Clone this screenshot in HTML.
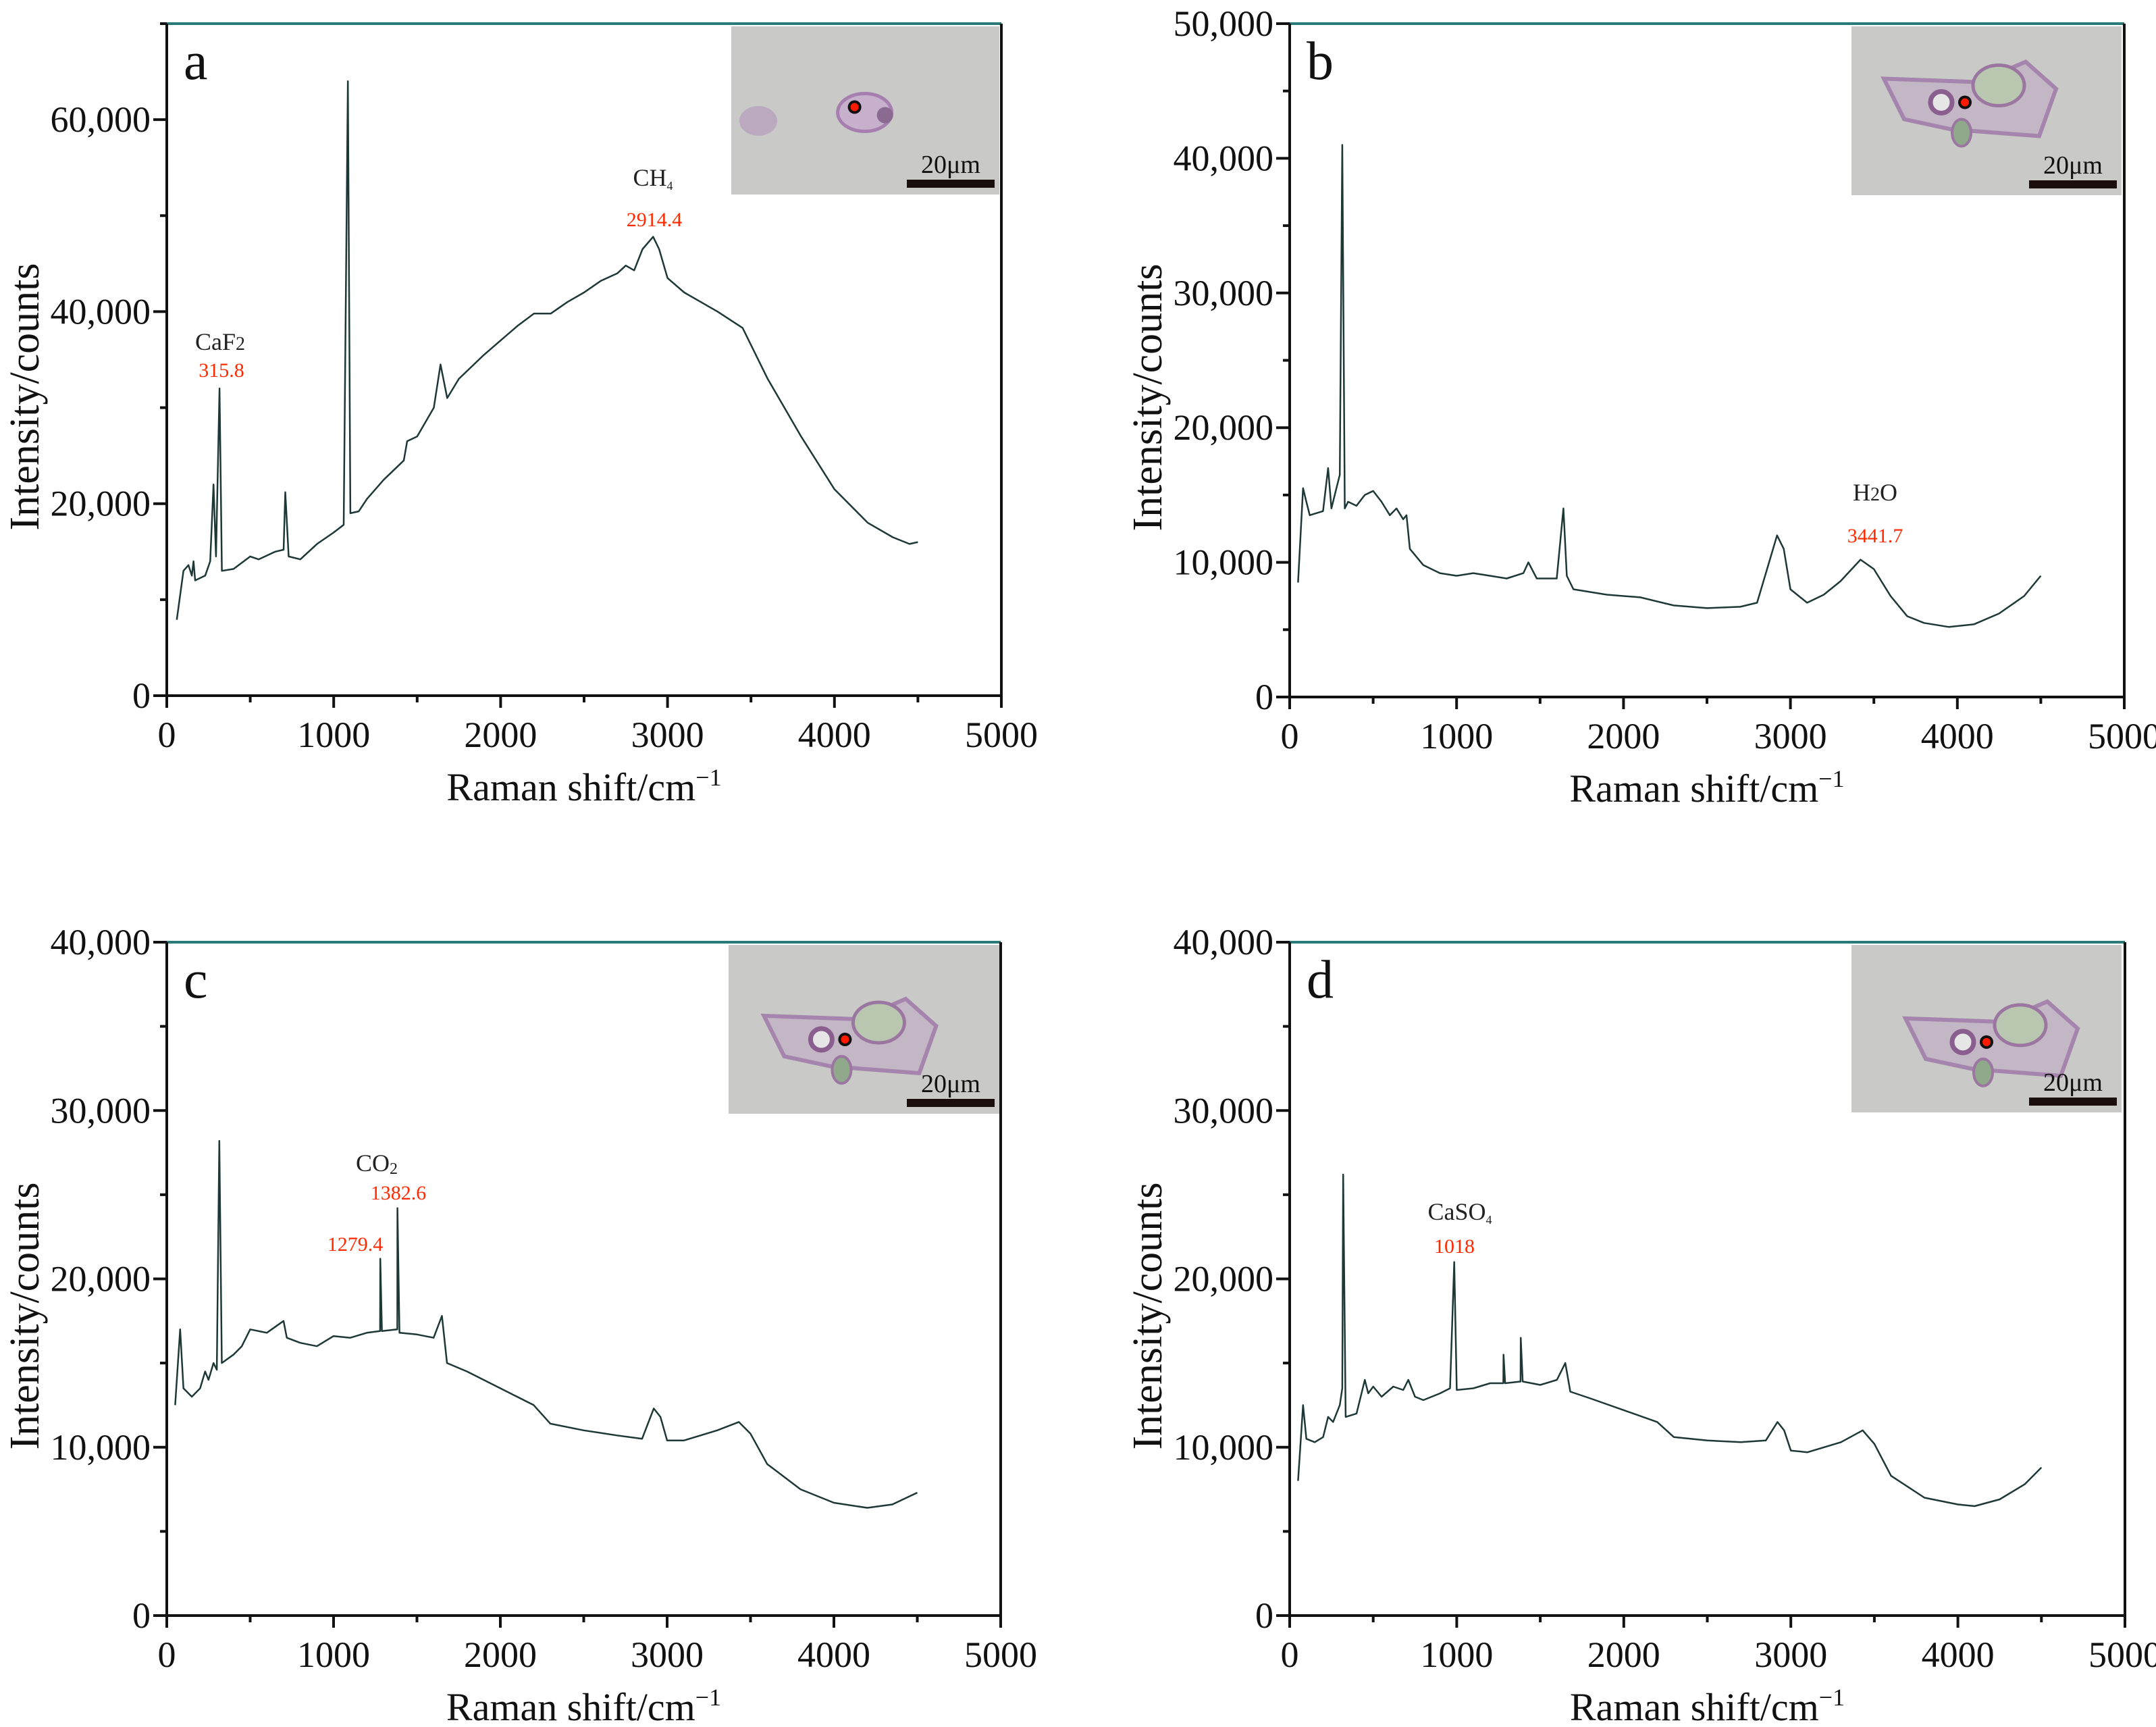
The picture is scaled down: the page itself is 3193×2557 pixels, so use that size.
<!DOCTYPE html>
<html><head><meta charset="utf-8"><style>
html,body{margin:0;padding:0;background:#fff;}
svg{display:block;font-family:"Liberation Serif","DejaVu Serif",serif;}
svg text{font-family:"Liberation Serif","DejaVu Serif",serif;}
</style></head><body>
<svg id="fig" width="3193" height="2557" viewBox="0 0 3193 2557" xmlns="http://www.w3.org/2000/svg" font-family="Liberation Serif, serif"></svg>
<script>
// ---- data ----
const xA=[60,100,130,150,160,170,230,260,280,295,315.8,330,400,500,550,650,700,710,730,800,900,1000,1060,1085,1100,1150,1200,1300,1420,1440,1500,1600,1640,1680,1750,1900,2000,2100,2200,2300,2400,2500,2600,2700,2750,2800,2850,2914,2950,3000,3100,3300,3450,3600,3800,4000,4200,4350,4450,4500];
const yA=[7900,13000,13600,12500,14000,12000,12500,14000,22000,14500,32000,13000,13200,14500,14200,15000,15200,21200,14500,14200,15800,17000,17800,64000,19000,19200,20500,22500,24500,26500,27000,30000,34500,31000,33000,35500,37000,38500,39800,39800,41000,42000,43200,44000,44800,44300,46500,47800,46500,43500,42000,40000,38300,33000,27000,21500,18000,16500,15800,16000];
const xB=[50,80,100,120,200,230,250,280,300,315,330,350,400,450,500,550,600,640,680,700,720,800,900,1000,1100,1200,1300,1400,1430,1480,1600,1640,1660,1700,1900,2100,2300,2500,2700,2800,2860,2920,2960,3000,3100,3200,3300,3420,3500,3600,3700,3800,3950,4100,4250,4400,4500];
const yB=[8500,15500,14500,13500,13800,17000,14000,15500,16500,41000,14000,14500,14200,15000,15300,14500,13500,14000,13200,13500,11000,9800,9200,9000,9200,9000,8800,9200,10000,8800,8800,14000,9000,8000,7600,7400,6800,6600,6700,7000,9500,12000,11000,8000,7000,7600,8600,10200,9500,7500,6000,5500,5200,5400,6200,7500,9000];
const xC=[50,80,100,150,200,230,250,280,300,315,330,400,450,500,600,700,720,800,900,1000,1100,1200,1279,1280,1290,1382,1383,1395,1500,1600,1650,1680,1800,2000,2200,2300,2500,2700,2850,2920,2960,3000,3100,3300,3430,3500,3600,3800,4000,4200,4350,4500];
const yC=[12500,17000,13500,13000,13500,14500,14000,15000,14600,28200,15000,15500,16000,17000,16800,17500,16500,16200,16000,16600,16500,16800,16900,21200,16900,17000,24200,16800,16700,16500,17800,15000,14500,13500,12500,11400,11000,10700,10500,12300,11800,10400,10400,11000,11500,10800,9000,7500,6700,6400,6600,7300];
const xD=[50,80,100,150,200,230,260,300,315,320,335,400,450,470,500,550,620,680,710,750,800,900,960,985,1000,1100,1200,1279,1280,1290,1382,1383,1395,1500,1600,1650,1680,1800,2000,2200,2300,2500,2700,2850,2920,2960,3000,3100,3300,3430,3500,3600,3800,4000,4100,4250,4400,4500];
const yD=[8000,12500,10500,10300,10600,11800,11500,12500,13500,26200,11800,12000,14000,13200,13600,13000,13600,13400,14000,13000,12800,13200,13500,21000,13400,13500,13800,13800,15500,13800,13900,16500,13900,13700,14000,15000,13300,12900,12200,11500,10600,10400,10300,10400,11500,11000,9800,9700,10300,11000,10200,8300,7000,6600,6500,6900,7800,8800];
const xTicks=[0,1000,2000,3000,4000,5000];
const yTicksA=[0,20000,40000,60000];
const yTicksB=[0,10000,20000,30000,40000,50000];
const yTicksCD=[0,10000,20000,30000,40000];

const NS="http://www.w3.org/2000/svg";
const svg=document.getElementById('fig');
function mk(tag,attrs,parent){const e=document.createElementNS(NS,tag);for(const k in attrs)e.setAttribute(k,attrs[k]);if(tag==='text')e.setAttribute('font-family','Liberation Serif, serif');(parent||svg).appendChild(e);return e;}
function fmt(v){return v===0?'0':v.toLocaleString('en-US');}

const panels=[
 {id:'a',L:247,R:1483,T:35,B:1030,ymax:70000,yt:yTicksA,minor:10000,xs:xA,ys:yA,ins:[1083,39,397,249],dot:[0.46,0.48]},
 {id:'b',L:1910,R:3146,T:35,B:1032,ymax:50000,yt:yTicksB,minor:5000,xs:xB,ys:yB,ins:[2742,39,400,250],dot:[0.42,0.45]},
 {id:'c',L:247,R:1482,T:1395,B:2392,ymax:40000,yt:yTicksCD,minor:5000,xs:xC,ys:yC,ins:[1079,1399,401,250],dot:[0.43,0.56]},
 {id:'d',L:1910,R:3147,T:1395,B:2392,ymax:40000,yt:yTicksCD,minor:5000,xs:xD,ys:yD,ins:[2742,1399,400,248],dot:[0.5,0.58]}
];

panels.forEach(p=>{
 const g=mk('g',{});
 
 
 const sx=v=>p.L+(v/5000)*(p.R-p.L);
 const sy=v=>p.B-(v/p.ymax)*(p.B-p.T);
 const [ix,iy,iw,ih]=p.ins;
 const ins=mk('g',{},g);
 
 
 mk('rect',{x:ix,y:iy,width:iw,height:ih,fill:'#c9cac7'},ins);
 const cx=ix+iw*p.dot[0], cy=iy+ih*p.dot[1];
 if(p.id==='a'){
  mk('ellipse',{cx:cx+15,cy:cy+8,rx:40,ry:28,fill:'#c6b0cc',stroke:'#a67fb0','stroke-width':5},ins);
  mk('circle',{cx:cx+45,cy:cy+12,r:12,fill:'#8a6a90'},ins);
  mk('ellipse',{cx:ix+40,cy:iy+140,rx:28,ry:22,fill:'#bba9c0'},ins);
 } else {
  mk('path',{d:`M${cx-120},${cy-35} L${cx+20},${cy-30} L${cx+90},${cy-60} L${cx+135},${cy-20} L${cx+110},${cy+50} L${cx-20},${cy+40} L${cx-90},${cy+25} Z`,fill:'#c3b6c5',stroke:'#a585ad','stroke-width':6},ins);
  mk('ellipse',{cx:cx+50,cy:cy-25,rx:38,ry:30,fill:'#b9c7b0',stroke:'#9a76a0','stroke-width':5},ins);
  mk('circle',{cx:cx-35,cy:cy,r:16,fill:'#e6e6e6',stroke:'#8a5f90','stroke-width':7},ins);
  mk('ellipse',{cx:cx-5,cy:cy+45,rx:14,ry:20,fill:'#8fa98a',stroke:'#9a76a0','stroke-width':4},ins);
 }
 mk('circle',{cx:cx,cy:cy,r:10,fill:'#111'},ins);
 mk('circle',{cx:cx,cy:cy,r:6,fill:'#ff1a00'},ins);
 const bar=mk('rect',{x:ix+iw-137,y:iy+ih-22,width:130,height:12,fill:'#1a0f0c'},ins);
 
 
 const sl=mk('text',{x:ix+iw-72,y:iy+ih-32,'font-size':38,'text-anchor':'middle',fill:'#111'},ins);
 sl.textContent='20μm';
 
 
 const top=mk('line',{x1:p.L,y1:p.T,x2:p.R,y2:p.T,stroke:'#2b7a7a','stroke-width':4},g);
 
 
 const rt=mk('line',{x1:p.R,y1:p.T,x2:p.R,y2:p.B+18,stroke:'#111','stroke-width':4},g);
 
 
 const lf=mk('line',{x1:p.L,y1:p.T,x2:p.L,y2:p.B+18,stroke:'#111','stroke-width':4},g);
 
 
 const bt=mk('line',{x1:p.L,y1:p.B,x2:p.R,y2:p.B,stroke:'#111','stroke-width':4},g);
 
 
 for(let v=0;v<=5000;v+=500){
  const major=v%1000===0;
  mk('line',{x1:sx(v),y1:p.B,x2:sx(v),y2:p.B+(major?18:10),stroke:'#111','stroke-width':4},g);
 }
 xTicks.forEach(v=>{
  const t=mk('text',{x:sx(v),y:p.B+76,'font-size':54,'text-anchor':'middle',fill:'#111'},g);
  t.textContent=String(v);
  
  
 });
 for(let v=0;v<=p.ymax;v+=p.minor){
  const major=p.yt.indexOf(v)>=0;
  mk('line',{x1:p.L-(major?20:10),y1:sy(v),x2:p.L,y2:sy(v),stroke:'#111','stroke-width':4},g);
 }
 p.yt.forEach(v=>{
  const t=mk('text',{x:p.L-24,y:sy(v)+18,'font-size':54,'text-anchor':'end',fill:'#111'},g);
  t.textContent=fmt(v);
  
  
 });
 const yt=mk('text',{x:0,y:0,'font-size':62,'text-anchor':'middle',fill:'#111',transform:`translate(${p.L-190},${(p.T+p.B)/2+55}) rotate(-90)`},g);
 yt.textContent='Intensity/counts';
 
 
 const xt=mk('text',{x:(p.L+p.R)/2,y:p.B+155,'font-size':58,'text-anchor':'middle',fill:'#111'},g);
 xt.innerHTML='Raman shift/cm<tspan dy="-22" font-size="36">−1</tspan>';
 
 
 const lt=mk('text',{x:p.L+25,y:p.T+82,'font-size':80,fill:'#111'},g);
 lt.textContent=p.id;
 
 
 const d=p.xs.map((x,i)=>(i?'L':'M')+sx(x).toFixed(1)+','+sy(p.ys[i]).toFixed(1)).join(' ');
 const path=mk('path',{d:d,fill:'none',stroke:'#1e3838','stroke-width':2.5,'stroke-linejoin':'round'},g);
 
 
});

function label(x,y,txt,col,size,name){
 const t=mk('text',{x:x,y:y,'font-size':size,'text-anchor':'middle',fill:col});
 t.innerHTML=txt;
 
 
}
label(326,518,'CaF<tspan font-size="28">2</tspan>','#222',36,'caf2-label');
label(328,558,'315.8','#ff2a00',30,'caf2-peak-value');
label(967,275,'CH<tspan font-size="18" dy="6">4</tspan>','#222',36,'ch4-label');
label(969,335,'2914.4','#ff2a00',30,'ch4-peak-value');
label(2777,741,'H<tspan font-size="28">2</tspan>O','#222',36,'h2o-label');
label(2777,803,'3441.7','#ff2a00',30,'h2o-peak-value');
label(558,1734,'CO<tspan font-size="24" dy="4">2</tspan>','#222',36,'co2-label');
label(590,1776,'1382.6','#ff2a00',30,'co2-peak-value-high');
label(526,1852,'1279.4','#ff2a00',30,'co2-peak-value-low');
label(2162,1806,'CaSO<tspan font-size="18" dy="6">4</tspan>','#222',36,'caso4-label');
label(2154,1855,'1018','#ff2a00',30,'caso4-peak-value');
</script>
</body></html>
